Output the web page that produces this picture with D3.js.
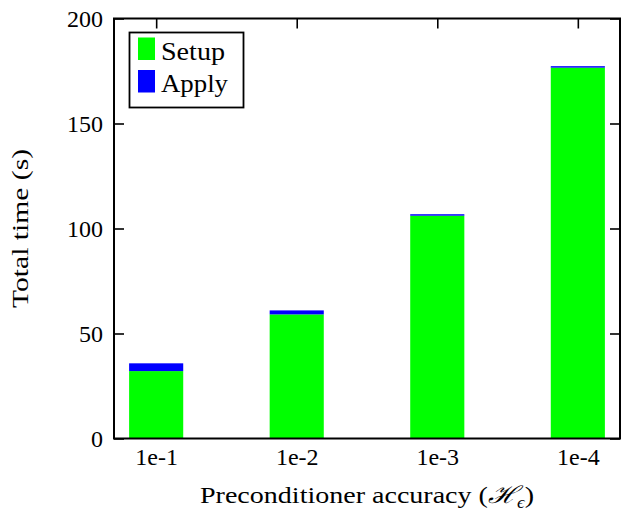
<!DOCTYPE html>
<html>
<head>
<meta charset="utf-8">
<script src="https://cdn.jsdelivr.net/npm/d3@7"></script>
<style>
  body { margin: 0; background: #fff; }
</style>
</head>
<body>
<svg width="622" height="523"></svg>
<script>
// chart data
var categories = ["1e-1", "1e-2", "1e-3", "1e-4"];
var setupTimes = [32.1, 59.1, 106.1, 176.6];
var applyTimes = [3.7, 1.9, 0.7, 0.7];
var yTicks = [0, 50, 100, 150, 200];
var seriesNames = ["Setup", "Apply"];
var seriesColors = ["#00ff00", "#0000ff"];

var serif = "Liberation Serif, DejaVu Serif, serif";

var svg = d3.select("svg"),
  plotLeft = 114, plotRight = 620, plotTop = 18.5, plotBottom = 438.5;

var x = d3.scalePoint().domain(categories).range([plotLeft, plotRight]).padding(0.3);
var y = d3.scaleLinear().domain([0, 200]).range([plotBottom, plotTop]);
var barW = x.step() * 0.385;

// stack the two series
var rows = categories.map(function (c, i) {
  return { cat: c, Setup: setupTimes[i], Apply: applyTimes[i] };
});
var stacked = d3.stack().keys(seriesNames)(rows);

// axes, ticks pointing inward
svg.append("g").attr("transform", "translate(" + plotLeft + ",0)")
  .call(d3.axisLeft(y).tickValues(yTicks).tickSize(-10).tickPadding(11));
svg.append("g").attr("transform", "translate(" + plotRight + ",0)")
  .call(d3.axisRight(y).tickValues(yTicks).tickSize(-10).tickFormat(""));
svg.append("g").attr("transform", "translate(0," + plotTop + ")")
  .call(d3.axisTop(x).tickSize(-10).tickFormat(""));
svg.append("g").attr("transform", "translate(0," + plotBottom + ")")
  .call(d3.axisBottom(x).tickSize(-10).tickPadding(9.5));

svg.selectAll(".domain").remove();
svg.selectAll(".tick line").attr("stroke", "#000").attr("stroke-width", 1.6);
svg.selectAll("g").attr("font-family", serif).attr("font-size", 24);
svg.selectAll(".tick text").attr("fill", "#000");

// bars
svg.append("g").selectAll("g")
  .data(stacked)
  .enter().append("g")
  .attr("fill", function (d, i) { return seriesColors[i]; })
  .selectAll("rect")
  .data(function (d) { return d; })
  .enter().append("rect")
  .attr("x", function (d) { return x(d.data.cat) - barW / 2; })
  .attr("width", barW)
  .attr("y", function (d) { return y(d[1]); })
  .attr("height", function (d) { return y(d[0]) - y(d[1]); });

// frame
svg.append("rect")
  .attr("x", plotLeft).attr("y", plotTop)
  .attr("width", plotRight - plotLeft).attr("height", plotBottom - plotTop)
  .attr("fill", "none").attr("stroke", "#000").attr("stroke-width", 2);

// legend
var legend = svg.append("g").attr("font-family", serif).attr("font-size", 25);
legend.append("rect")
  .attr("x", 129.5).attr("y", 32.5).attr("width", 114).attr("height", 75)
  .attr("fill", "#fff").attr("stroke", "#000").attr("stroke-width", 1.8);
seriesNames.forEach(function (name, i) {
  legend.append("rect")
    .attr("x", 138).attr("y", 37.5 + i * 32.5)
    .attr("width", 17).attr("height", 22.5)
    .attr("fill", seriesColors[i]);
  legend.append("text")
    .attr("x", 161).attr("y", 59.5 + i * 32.5)
    .attr("textLength", i == 0 ? 64 : 67).attr("lengthAdjust", "spacingAndGlyphs")
    .text(name);
});

// axis titles
svg.append("text")
  .attr("font-family", serif).attr("font-size", 24)
  .attr("x", (plotLeft + plotRight) / 2).attr("y", 503)
  .attr("text-anchor", "middle")
  .attr("textLength", 334).attr("lengthAdjust", "spacingAndGlyphs")
  .html("Preconditioner accuracy (<tspan font-style='italic'>ℋ</tspan><tspan font-style='italic' font-size='16' dy='5'>ϵ</tspan><tspan dy='-5'>)</tspan>");

svg.append("text")
  .attr("font-family", serif).attr("font-size", 24)
  .attr("transform", "translate(28," + ((plotTop + plotBottom) / 2) + ") rotate(-90)")
  .attr("text-anchor", "middle")
  .attr("textLength", 159).attr("lengthAdjust", "spacingAndGlyphs")
  .text("Total time (s)");
</script>
</body>
</html>
